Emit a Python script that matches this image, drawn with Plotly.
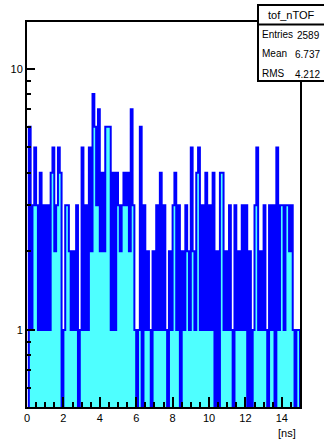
import numpy as np
import plotly.graph_objects as go

# ---- data (counts per 0.1 ns bin, 0..15 ns) ----
bin_lo = 0.0
bin_hi = 15.0
n_bins = 150
counts = [
    0, 6, 1, 3, 5, 3, 1, 4, 1, 3,
    1, 3, 1, 4, 5, 2, 3, 5, 4, 0,
    1, 3, 3, 2, 1, 2, 1, 3, 0, 1,
    5, 1, 3, 1, 5, 2, 8, 6, 3, 7,
    2, 4, 2, 6, 6, 6, 1, 4, 1, 4,
    3, 2, 3, 4, 3, 4, 2, 7, 3, 1,
    0, 1, 6, 0, 3, 1, 2, 1, 0, 2,
    1, 3, 1, 4, 1, 3, 1, 0, 2, 1,
    3, 4, 1, 3, 0, 2, 1, 3, 2, 1,
    5, 2, 1, 4, 5, 1, 3, 1, 4, 1,
    3, 1, 4, 0, 2, 0, 4, 4, 1, 2,
    1, 3, 1, 0, 3, 1, 2, 1, 3, 1,
    3, 0, 2, 0, 1, 3, 5, 1, 2, 1,
    3, 1, 0, 3, 1, 3, 0, 5, 1, 3,
    3, 1, 3, 3, 2, 3, 1, 0, 1, 1,
]
hist_name = "tof_nTOF"
stat_labels = ["Entries", "Mean", "RMS"]
stat_values = ["2589", "6.737", "4.212"]
y_major = [1, 10]
y_minor = [0.6, 0.7, 0.8, 0.9, 2, 3, 4, 5, 6, 7, 8, 9]
y_min, y_max = 0.507, 15.1
x_title = "[ns]"

# ---- geometry ----
W, H = 324, 440
L, R, T, B = 27, 300, 22, 407
def px(xp):
    return (xp - L) / (R - L)
def py(yp):
    return (B - yp) / (B - T)

counts = np.array(counts, dtype=float)
edges = np.linspace(bin_lo, bin_hi, n_bins + 1)
centers = 0.5 * (edges[:-1] + edges[1:])
bw = edges[1] - edges[0]

floor_val = 1e-3
line_x = np.concatenate([[edges[0]], edges[:-1], [edges[-1]], [edges[-1]]])
cnt_line = np.where(counts > 0, counts, floor_val)
line_y = np.concatenate([[floor_val], cnt_line, [cnt_line[-1]], [floor_val]])

fig = go.Figure()
fig.add_trace(go.Bar(
    x=centers, y=np.where(counts > 0, counts, np.nan), width=bw,
    marker=dict(color="#00ffff", line=dict(width=0),
                pattern=dict(shape=".", fgcolor="#00ffff", bgcolor="white",
                             size=2, solidity=0.7, fillmode="replace")),
    hoverinfo="skip", showlegend=False,
))
fig.add_trace(go.Scatter(
    x=line_x, y=line_y, mode="lines", line=dict(color="#0000ff", width=2, shape="hv"),
    hoverinfo="skip", showlegend=False,
))

font = dict(family="Liberation Sans, Arial, sans-serif", size=11, color="black")

fig.update_layout(
    width=W, height=H,
    margin=dict(l=L, r=W - R, t=T, b=H - B),
    paper_bgcolor="white", plot_bgcolor="white",
    bargap=0, font=font, showlegend=False,
    xaxis=dict(
        range=[bin_lo, bin_hi], showgrid=False, zeroline=False,
        showline=True, linecolor="black", linewidth=2, mirror=True,
        ticks="inside", ticklen=10, tickwidth=1.5, tickcolor="black",
        dtick=2, tick0=0,
        minor=dict(ticks="inside", ticklen=5, tickwidth=1.5, tickcolor="black", dtick=0.5, tick0=0),
        tickfont=font,
    ),
    yaxis=dict(
        type="log", range=[np.log10(y_min), np.log10(y_max)],
        showgrid=False, zeroline=False,
        showline=True, linecolor="black", linewidth=2, mirror=True,
        ticks="inside", ticklen=8, tickwidth=1.5, tickcolor="black",
        tickmode="array", tickvals=y_major, ticktext=[str(v) for v in y_major],
        minor=dict(ticks="inside", ticklen=4, tickwidth=1.5, tickcolor="black",
                   tickmode="array", tickvals=y_minor),
        tickfont=font,
    ),
)

# x-axis title
fig.add_annotation(xref="paper", yref="paper", x=px(298), y=py(433), text=x_title,
                   showarrow=False, xanchor="right", yanchor="middle", font=font)

# stats box
bx0, bx1, by0, by1, bdiv = 258, 327, 5, 81, 24.5
fig.add_shape(type="rect", xref="paper", yref="paper",
              x0=px(bx0), x1=px(bx1), y0=py(by1), y1=py(by0),
              line=dict(color="black", width=2), fillcolor="white", layer="above")
fig.add_shape(type="line", xref="paper", yref="paper",
              x0=px(bx0), x1=px(bx1), y0=py(bdiv), y1=py(bdiv),
              line=dict(color="black", width=2), layer="above")
fig.add_annotation(xref="paper", yref="paper", x=px(291), y=py(15), text=hist_name,
                   showarrow=False, xanchor="center", yanchor="middle", font=font)
row_y = [34, 53.5, 73]
sfont = dict(family="Liberation Sans, Arial, sans-serif", size=10, color="black")
for lab, val, ry in zip(stat_labels, stat_values, row_y):
    fig.add_annotation(xref="paper", yref="paper", x=px(260), y=py(ry), text=lab,
                       showarrow=False, xanchor="left", yanchor="middle", font=sfont)
    fig.add_annotation(xref="paper", yref="paper", x=px(322), y=py(ry + 1), text=val,
                       showarrow=False, xanchor="right", yanchor="middle", font=sfont)

fig.write_html("out.html", config={"displayModeBar": False},
               post_script="document.body.style.margin='0';document.body.style.overflow='hidden';")
